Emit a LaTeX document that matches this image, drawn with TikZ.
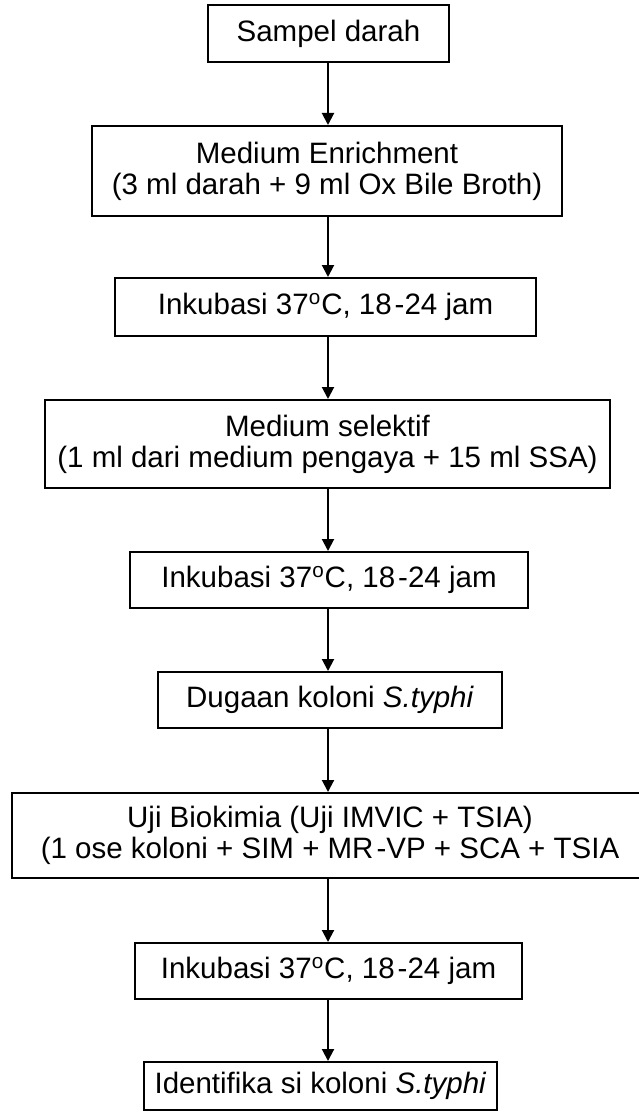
\documentclass[tikz,border=0pt]{standalone}
\usepackage{fontspec}
\setmainfont{Liberation Sans}
\usetikzlibrary{arrows.meta}
\begin{document}
\begin{tikzpicture}[x=0.5pt,y=-0.5pt,
  box/.style={draw=black,line width=1pt,rectangle,inner sep=0pt,align=center,
    font=\fontsize{14.75pt}{15.5pt}\selectfont},
  arr/.style={draw=black,line width=1pt,-{Triangle[width=6pt,length=6pt]}}]
\useasboundingbox (0,0) rectangle (638,1113);
\node[box,minimum width=120.5pt,minimum height=28.5pt] (b1) at (328.5,33.5) {Sampel darah};
\node[box,minimum width=235pt,minimum height=45pt] (b2) at (327,171) {Medium Enrichment\\(3 ml darah + 9 ml Ox Bile Broth)};
\node[box,minimum width=210.5pt,minimum height=29pt] (b3) at (325.5,307) {Inkubasi 37\textsuperscript{o}C, 18\kern1.5pt-24 jam};
\node[box,minimum width=282.5pt,minimum height=44pt] (b4) at (327.5,444) {Medium selektif\\(1 ml dari medium pengaya + 15 ml SSA)};
\node[box,minimum width=199pt,minimum height=28pt] (b5) at (329,580) {Inkubasi 37\textsuperscript{o}C, 18\kern1.5pt-24 jam};
\node[box,minimum width=172pt,minimum height=28pt] (b6) at (330,700) {Dugaan koloni \textit{S.typhi}};
\node[box,draw=none,minimum width=316.5pt,minimum height=42.5pt] (b7) at (330,835.5) {Uji Biokimia (Uji IMVIC + TSIA)\\(1 ose koloni + SIM + MR\kern1.5pt-VP + SCA + TSIA};
\draw[line width=1pt] (12,793) rectangle (680,878);
\node[box,minimum width=193.5pt,minimum height=28pt] (b8) at (328.5,971) {Inkubasi 37\textsuperscript{o}C, 18\kern1.5pt-24 jam};
\node[box,minimum width=176.5pt,minimum height=24pt] (b9) at (320.5,1086) {Identifika si koloni \textit{S.typhi}};
\coordinate (ax) at (328,0);
\draw[arr] (ax |- b1.south) -- (ax |- b2.north);
\draw[arr] (ax |- b2.south) -- (ax |- b3.north);
\draw[arr] (ax |- b3.south) -- (ax |- b4.north);
\draw[arr] (ax |- b4.south) -- (ax |- b5.north);
\draw[arr] (ax |- b5.south) -- (ax |- b6.north);
\draw[arr] (ax |- b6.south) -- (ax |- b7.north);
\draw[arr] (ax |- b7.south) -- (ax |- b8.north);
\draw[arr] (ax |- b8.south) -- (ax |- b9.north);
\end{tikzpicture}
\end{document}
